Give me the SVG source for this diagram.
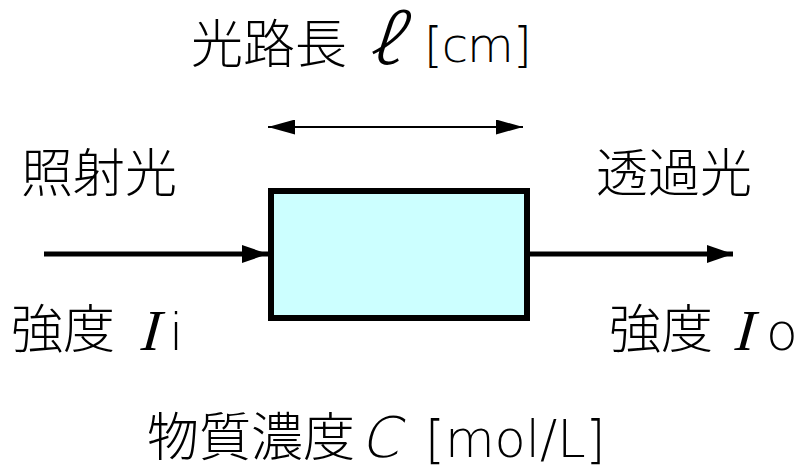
<svg xmlns="http://www.w3.org/2000/svg" width="802" height="470" viewBox="0 0 802 470">
<style>
.t{font-family:"Noto Sans CJK JP","Noto Sans",sans-serif;font-size:52px;font-weight:300;fill:#000}
.l{font-family:"DejaVu Sans","Liberation Sans",sans-serif;font-weight:200;font-style:normal}
.i{font-family:"Liberation Serif",serif;font-weight:400;font-style:normal}
</style>
<defs>
<marker id="ah" viewBox="0 0 26 18" refX="26" refY="9" markerWidth="5.2" markerHeight="3.6" orient="auto" markerUnits="strokeWidth"><path d="M0,0 L26,9 L0,18 Z" fill="#000"/></marker>
<marker id="ah2" viewBox="0 0 27 15" refX="27" refY="7.5" markerWidth="13.5" markerHeight="7.5" orient="auto-start-reverse" markerUnits="strokeWidth"><path d="M0,0 L27,7.5 L0,15 Z" fill="#000"/></marker>
</defs>
<rect width="802" height="470" fill="#fff"/>
<g id="connectors">
<line x1="44" y1="254" x2="268" y2="254" stroke="#000" stroke-width="5" marker-end="url(#ah)"/>
<line x1="530" y1="254" x2="733" y2="254" stroke="#000" stroke-width="5" marker-end="url(#ah)"/>
<line x1="268" y1="127" x2="523" y2="127" stroke="#000" stroke-width="2" marker-start="url(#ah2)" marker-end="url(#ah2)"/>
</g>
<g id="cell">
<rect x="271" y="191" width="256" height="127" fill="#CCFFFF" stroke="#000" stroke-width="6"/>
</g>
<g id="label-length">
<text class="t" x="191" y="63">光路長</text>
<text class="t" x="0" y="0" font-size="64" transform="translate(366,64) skewX(-18) scale(1.5,1.3)">ℓ</text>
<text class="l" x="424" y="62" font-size="48" letter-spacing="-1">[cm]</text>
</g>
<g id="label-incident">
<text class="t" x="21" y="192">照射光</text>
<text class="t" x="11" y="348">強度</text>
<text class="i" x="0" y="0" font-size="58" transform="translate(138,350) skewX(-15)">I</text>
<text class="l" x="169" y="350" font-size="52">i</text>
</g>
<g id="label-transmitted">
<text class="t" x="596" y="192">透過光</text>
<text class="t" x="609" y="348">強度</text>
<text class="i" x="0" y="0" font-size="58" transform="translate(732,350) skewX(-15)">I</text>
<text class="l" x="766" y="350" font-size="52">o</text>
</g>
<g id="label-concentration">
<text class="t" x="147" y="456">物質濃度</text>
<text class="l" x="0" y="0" font-size="56" transform="translate(360,457) skewX(-14)">C</text>
<text class="l" x="425" y="457" font-size="51">[mol/L]</text>
</g>
</svg>
